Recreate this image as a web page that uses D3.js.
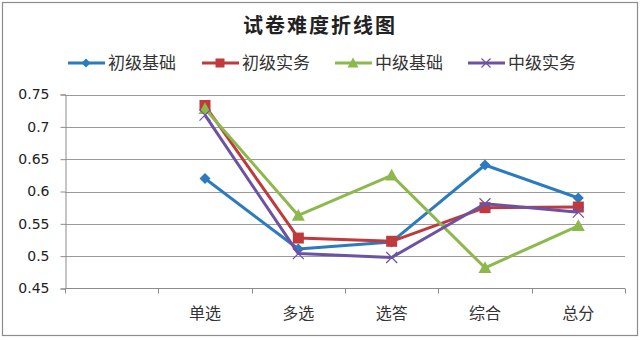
<!DOCTYPE html>
<html>
<head>
<meta charset="utf-8">
<script src="https://cdn.jsdelivr.net/npm/d3@7/dist/d3.min.js"></script>
<style>
  html, body { margin: 0; padding: 0; background: #fff; }
  svg { display: block; }
</style>
</head>
<body>
<svg id="chart" width="642" height="340"></svg>
<script>
// Categories along the x axis (first slot is intentionally blank)
const categories = ["", "单选", "多选", "选答", "综合", "总分"];
const seriesNames = ["初级基础", "初级实务", "中级基础", "中级实务"];
// Difficulty values per series, aligned with categories 单选..总分
const chuJiJiChu = [0.620, 0.511, 0.522, 0.641, 0.590];
const chuJiShiWu = [0.733, 0.528, 0.523, 0.575, 0.576];
const zhongJiJiChu = [0.728, 0.563, 0.625, 0.482, 0.547];
const zhongJiShiWu = [0.718, 0.504, 0.498, 0.581, 0.568];
const yTicks = [0.45, 0.5, 0.55, 0.6, 0.65, 0.7, 0.75];
const yTickLabels = ["0.45", "0.5", "0.55", "0.6", "0.65", "0.7", "0.75"];

const colors = ["#2c7bbf", "#c0393b", "#8db94c", "#6c52a3"];
const markers = ["diamond", "square", "triangle", "cross"];
const seriesValues = [chuJiJiChu, chuJiShiWu, zhongJiJiChu, zhongJiShiWu];

const svg = d3.select("#chart");
const cjk = "'Noto Sans CJK SC', 'Noto Sans', sans-serif";

// outer frame
svg.append("rect")
  .attr("x", 2.5).attr("y", 2.5).attr("width", 635).attr("height", 333)
  .attr("fill", "#fff").attr("stroke", "#8c8c8c").attr("stroke-width", 1.2);

// title
svg.append("text")
  .attr("x", 320).attr("y", 33)
  .attr("text-anchor", "middle")
  .attr("font-family", cjk).attr("font-size", 20).attr("font-weight", "bold")
  .attr("letter-spacing", 2)
  .attr("fill", "#222")
  .text("试卷难度折线图");

const plotLeft = 65, plotRight = 625, plotTop = 94.5, plotBottom = 288.5;
const x = d3.scaleBand().domain(categories).range([plotLeft, plotRight]);
const y = d3.scaleLinear().domain([0.45, 0.75]).range([plotBottom, plotTop]);

// horizontal gridlines
svg.append("g")
  .selectAll("line")
  .data(yTicks.slice(1))
  .join("line")
  .attr("x1", plotLeft).attr("x2", plotRight)
  .attr("y1", d => Math.round(y(d)) + 0.5).attr("y2", d => Math.round(y(d)) + 0.5)
  .attr("stroke", "#9a9a9a").attr("stroke-width", 1);

// y axis
const yAxis = d3.axisLeft(y)
  .tickValues(yTicks)
  .tickSize(5)
  .tickPadding(11)
  .tickFormat((d, i) => yTickLabels[i]);
const yg = svg.append("g").attr("transform", `translate(${plotLeft + 0.5},0)`).call(yAxis);
yg.select(".domain").attr("stroke", "#8c8c8c");
yg.selectAll(".tick line").attr("stroke", "#8c8c8c");
yg.selectAll(".tick text")
  .attr("font-family", "'DejaVu Sans', sans-serif").attr("font-size", 14)
  .attr("fill", "#222");

// x axis: ticks at band boundaries, labels at band centres
const xg = svg.append("g").attr("transform", `translate(0,${plotBottom})`);
xg.append("line").attr("x1", plotLeft).attr("x2", plotRight).attr("y1", 0).attr("y2", 0)
  .attr("stroke", "#8c8c8c");
const boundaries = categories.map(c => x(c)).concat([plotRight]);
xg.selectAll("line.tk").data(boundaries).join("line").attr("class", "tk")
  .attr("x1", d => Math.round(d) + 0.5).attr("x2", d => Math.round(d) + 0.5)
  .attr("y1", 0).attr("y2", 5).attr("stroke", "#8c8c8c");
xg.selectAll("text").data(categories).join("text")
  .attr("x", d => x(d) + x.bandwidth() / 2)
  .attr("y", 30.5)
  .attr("text-anchor", "middle")
  .attr("font-family", cjk).attr("font-size", 16).attr("fill", "#333")
  .text(d => d);

const cx = d => x(d) + x.bandwidth() / 2;
const dataCats = categories.slice(1);

function drawMarker(g, type, color, px, py, s) {
  if (type === "diamond") {
    g.append("path").attr("d", `M${px},${py - s}L${px + s},${py}L${px},${py + s}L${px - s},${py}Z`)
      .attr("fill", color);
  } else if (type === "square") {
    g.append("rect").attr("x", px - s).attr("y", py - s).attr("width", 2 * s).attr("height", 2 * s)
      .attr("fill", color);
  } else if (type === "triangle") {
    g.append("path").attr("d", `M${px},${py - s}L${px + s},${py + s * 0.8}L${px - s},${py + s * 0.8}Z`)
      .attr("fill", color);
  } else {
    g.append("path").attr("d", `M${px - s},${py - s}L${px + s},${py + s}M${px + s},${py - s}L${px - s},${py + s}`)
      .attr("stroke", color).attr("stroke-width", 1.2).attr("fill", "none");
  }
}
const markerSize = [5.5, 5.5, 6.5, 5.5];

// series lines and markers
const line = d3.line().x((d, i) => cx(dataCats[i])).y(d => y(d));
seriesValues.forEach((vals, si) => {
  const g = svg.append("g");
  g.append("path").datum(vals).attr("d", line)
    .attr("fill", "none").attr("stroke", colors[si]).attr("stroke-width", 3)
    .attr("stroke-linejoin", "round");
  vals.forEach((v, i) => drawMarker(g, markers[si], colors[si], cx(dataCats[i]), y(v), markerSize[si]));
});

// legend
const legendX = [68, 202, 335, 468];
seriesNames.forEach((name, i) => {
  const g = svg.append("g");
  const lx = legendX[i], ly = 63;
  g.append("line").attr("x1", lx).attr("x2", lx + 37).attr("y1", ly).attr("y2", ly)
    .attr("stroke", colors[i]).attr("stroke-width", 3);
  drawMarker(g, markers[i], colors[i], lx + 18, ly, markerSize[i] - 1);
  g.append("text").attr("x", lx + 40).attr("y", ly + 6)
    .attr("font-family", cjk).attr("font-size", 17).attr("fill", "#333")
    .text(name);
});
</script>
</body>
</html>
